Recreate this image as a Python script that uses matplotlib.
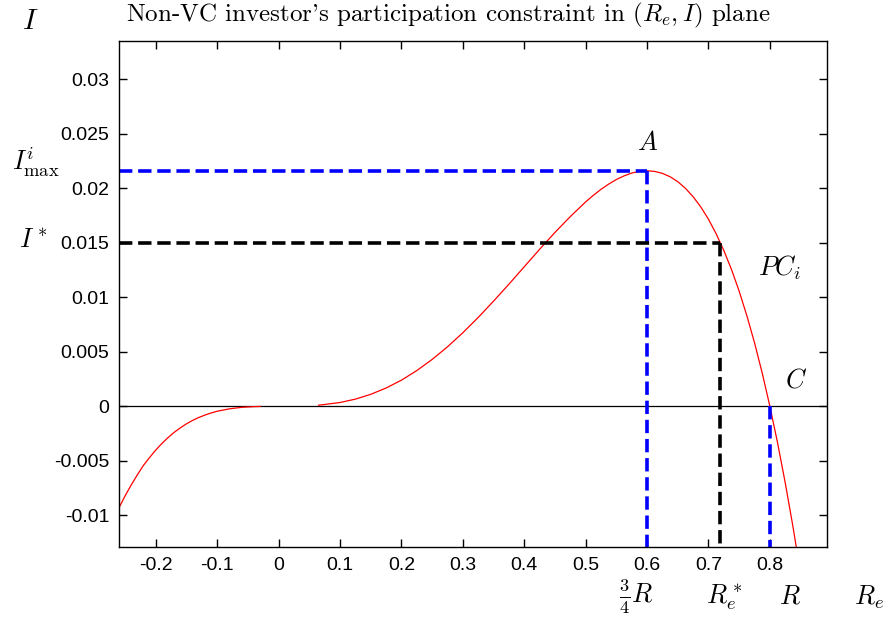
import matplotlib
matplotlib.use("Agg")
import numpy as np
import matplotlib.pyplot as plt

plt.rcParams["mathtext.fontset"] = "cm"
plt.rcParams["axes.unicode_minus"] = False

# participation constraint curve (two visible pieces)
re_left = [-0.26, -0.25, -0.24, -0.23, -0.22, -0.21, -0.20, -0.19, -0.18,
           -0.17, -0.16, -0.15, -0.14, -0.13, -0.12, -0.11, -0.10, -0.08,
           -0.06, -0.04, -0.03]
i_left = [-0.0093, -0.0082, -0.0072, -0.00627, -0.0054, -0.00468, -0.0040,
          -0.0034, -0.00286, -0.00238, -0.00197, -0.0016, -0.00129, -0.00102,
          -0.0008, -0.00061, -0.00045, -0.00023, -0.00009, -0.00003, -0.00001]
re_right = [0.065, 0.10, 0.125, 0.15, 0.175, 0.20, 0.225, 0.25, 0.275, 0.30,
            0.325, 0.35, 0.375, 0.40, 0.425, 0.45, 0.475, 0.50, 0.5125, 0.525,
            0.5375, 0.55, 0.5625, 0.575, 0.5875, 0.60, 0.6125, 0.625, 0.6375,
            0.65, 0.6625, 0.675, 0.6875, 0.70, 0.7125, 0.725, 0.7375, 0.75,
            0.7625, 0.775, 0.7875, 0.80, 0.8125, 0.825, 0.8375, 0.85]
i_right = [0.0001, 0.00035, 0.00066, 0.0011, 0.00168, 0.0024, 0.00328, 0.0043,
           0.00546, 0.00675, 0.00815, 0.00965, 0.0112, 0.0128, 0.0144, 0.01595,
           0.0174, 0.01875, 0.01935, 0.0199, 0.02038, 0.0208, 0.02113, 0.02139,
           0.02155, 0.0216, 0.02154, 0.02136, 0.02105, 0.0206, 0.01999, 0.01922,
           0.01828, 0.01715, 0.01582, 0.01429, 0.01254, 0.01055, 0.00831,
           0.00582, 0.00305, 0.0, -0.00335, -0.00702, -0.01101, -0.01535]

R = 0.8
re_a, i_max = 0.6, 0.0216      # point A
re_star, i_star = 0.719, 0.015

xticks = [-0.2, -0.1, 0, 0.1, 0.2, 0.3, 0.4, 0.5, 0.6, 0.7, 0.8]
xlabels = ["-0.2", "-0.1", "0", "0.1", "0.2", "0.3", "0.4", "0.5", "0.6", "0.7", "0.8"]
yticks = [-0.01, -0.005, 0, 0.005, 0.01, 0.015, 0.02, 0.025, 0.03]
ylabels = ["-0.01", "-0.005", "0", "0.005", "0.01", "0.015", "0.02", "0.025", "0.03"]

W, H = 888, 621
fig = plt.figure(figsize=(W / 100, H / 100), dpi=100)
ax = fig.add_axes([119 / W, 1 - 547 / H, (827 - 119) / W, (547 - 41) / H])
xmin, xmax, ymin, ymax = -0.26, 0.893, -0.0129, 0.0335

ax.axhline(0, color="black", lw=0.9)
ax.plot(re_left, i_left, color="red", lw=0.9)
ax.plot(re_right, i_right, color="red", lw=0.9)

ax.plot([xmin, re_a], [i_max, i_max], "--", color="blue", lw=2.6)
ax.plot([re_a, re_a], [i_max, ymin], "--", color="blue", lw=2.6)
ax.plot([xmin, re_star], [i_star, i_star], "--", color="black", lw=2.6)
ax.plot([re_star, re_star], [i_star, ymin], "--", color="black", lw=2.6)
ax.plot([R, R], [0, ymin], "--", color="blue", lw=2.6)

ax.set_xlim(xmin, xmax)
ax.set_ylim(ymin, ymax)
ax.set_xticks(xticks)
ax.set_xticklabels(xlabels)
ax.set_yticks(yticks)
ax.set_yticklabels(ylabels)
ax.tick_params(direction="in", top=True, right=True, length=6, width=1,
               labelsize=14, pad=7)
for lab in ax.get_xticklabels() + ax.get_yticklabels():
    lab.set_family("Liberation Sans")
for s in ax.spines.values():
    s.set_linewidth(1.0)

def ftext(x, y, s, size=19, **kw):
    fig.text(x / W, 1 - y / H, s, fontsize=size, ha="center", va="center", **kw)

ftext(448, 15, r"Non-VC investor's participation constraint in $(R_e, I)$ plane",
      size=18, family="cmr10")
ftext(30, 21, r"$I$", size=21)
ftext(36, 162, r"$I^i_{\max}$")
ftext(33, 240, r"$I^*$")
ftext(636, 597, r"$\frac{3}{4}R$")
ftext(724, 597, r"$R_e^*$")
ftext(790, 597, r"$R$")
ftext(869, 597, r"$R_e$")
ftext(648, 143, r"$A$")
ftext(780, 268, r"$PC_i$")
ftext(796, 381, r"$C$")

fig.savefig("out.png", dpi=100)
